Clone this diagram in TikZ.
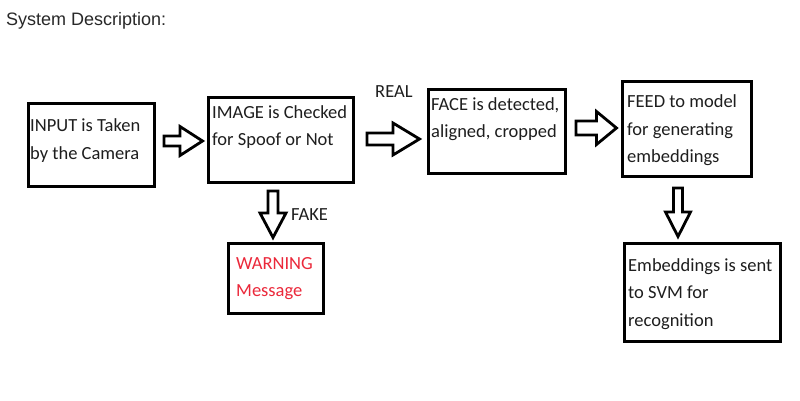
\documentclass[tikz,border=0pt]{standalone}
\usepackage{fontspec}
\setmainfont{Carlito}
\newfontfamily\titlefont{Liberation Sans}
\usetikzlibrary{calc}
\definecolor{inkgray}{RGB}{30,30,30}
\definecolor{titlegray}{RGB}{40,40,40}
\definecolor{warnred}{RGB}{235,40,58}
\tikzset{
  box/.style={draw=black, line width=3pt, inner sep=0pt},
  % multi-line labels: the base anchor sits on the last line
  lbl/.style={inner sep=0pt, anchor=base west, align=left, text=inkgray,
    font={\fontsize{18.5}{27.5}\selectfont}},
  blockline/.style={draw=black, fill=white, line width=2.8pt, line join=miter},
  % horizontal hollow block arrow: shaft half-height, head half-height, head length
  hblock/.style n args={3}{to path={let \p1=(\tikztostart), \p2=(\tikztotarget) in
    (\x1,\y1+#1pt) -- (\x2-#3pt,\y1+#1pt) -- (\x2-#3pt,\y1+#2pt) -- (\x2,\y1)
    -- (\x2-#3pt,\y1-#2pt) -- (\x2-#3pt,\y1-#1pt) -- (\x1,\y1-#1pt) -- cycle}},
  % downward hollow block arrow
  vblock/.style n args={3}{to path={let \p1=(\tikztostart), \p2=(\tikztotarget) in
    (\x1+#1pt,\y1) -- (\x1+#1pt,\y2+#3pt) -- (\x1+#2pt,\y2+#3pt) -- (\x1,\y2)
    -- (\x1-#2pt,\y2+#3pt) -- (\x1-#1pt,\y2+#3pt) -- (\x1-#1pt,\y1) -- cycle}},
}
\begin{document}
\begin{tikzpicture}[x=1pt,y=-1pt]
\useasboundingbox[fill=white] (0,0) rectangle (800,400);

\node[inner sep=0pt, anchor=base west, text=titlegray,
  font={\titlefont\fontsize{18}{22}\selectfont}] (title) at (6,25) {System Description:};

% process boxes
\node[box, minimum width=126, minimum height=83] (input) at (91.5,145) {};
\node[box, minimum width=145, minimum height=85] (image) at (281,140) {};
\node[box, minimum width=137, minimum height=84] (face)  at (497,131.5) {};
\node[box, minimum width=129, minimum height=95] (feed)  at (687,129) {};
\node[box, minimum width=95,  minimum height=70] (warn)  at (276,278.5) {};
\node[box, minimum width=156, minimum height=98] (svm)   at (702.5,292.5) {};

% box texts (positioned by the baseline of their last line)
\node[lbl] (tinput) at (30,159)    {INPUT is Taken\\by the Camera};
\node[lbl] (timage) at (212,145.5) {IMAGE is Checked\\for Spoof or Not};
\node[lbl] (tface)  at (431,137.5) {FACE is detected,\\aligned, cropped};
\node[lbl] (tfeed)  at (627,162.5) {FEED to model\\for generating\\embeddings};
\node[lbl, text=warnred] (twarn) at (236,296.5) {WARNING\\Message};
\node[lbl] (tsvm)   at (628,326)   {Embeddings is sent\\to SVM for\\recognition};

% branch labels
\node[lbl] (real) at (375,97)  {REAL};
\node[lbl] (fake) at (291,220) {FAKE};

% hollow block arrows between the stages
\draw[blockline] ($(input.east)+(8,-4)$) to[hblock={5}{14.5}{22.5}] ($(image.west)+(-4.5,0)$);
\draw[blockline] ($(image.east)+(12,-1)$) to[hblock={6}{16}{26.5}] ($(face.west)+(-7.5,0)$);
\draw[blockline] ($(face.east)+(9,-3.5)$) to[hblock={7}{16.5}{20}] ($(feed.west)+(-4.5,0)$);
\draw[blockline] ($(image.south)+(-8,7)$) to[vblock={5}{13}{24.5}] ($(warn.north)+(0,-4.5)$);
\draw[blockline] ($(feed.south)+(-9,10)$) to[vblock={4.5}{12.5}{24.5}] ($(svm.north)+(0,-5.5)$);
\end{tikzpicture}
\end{document}
